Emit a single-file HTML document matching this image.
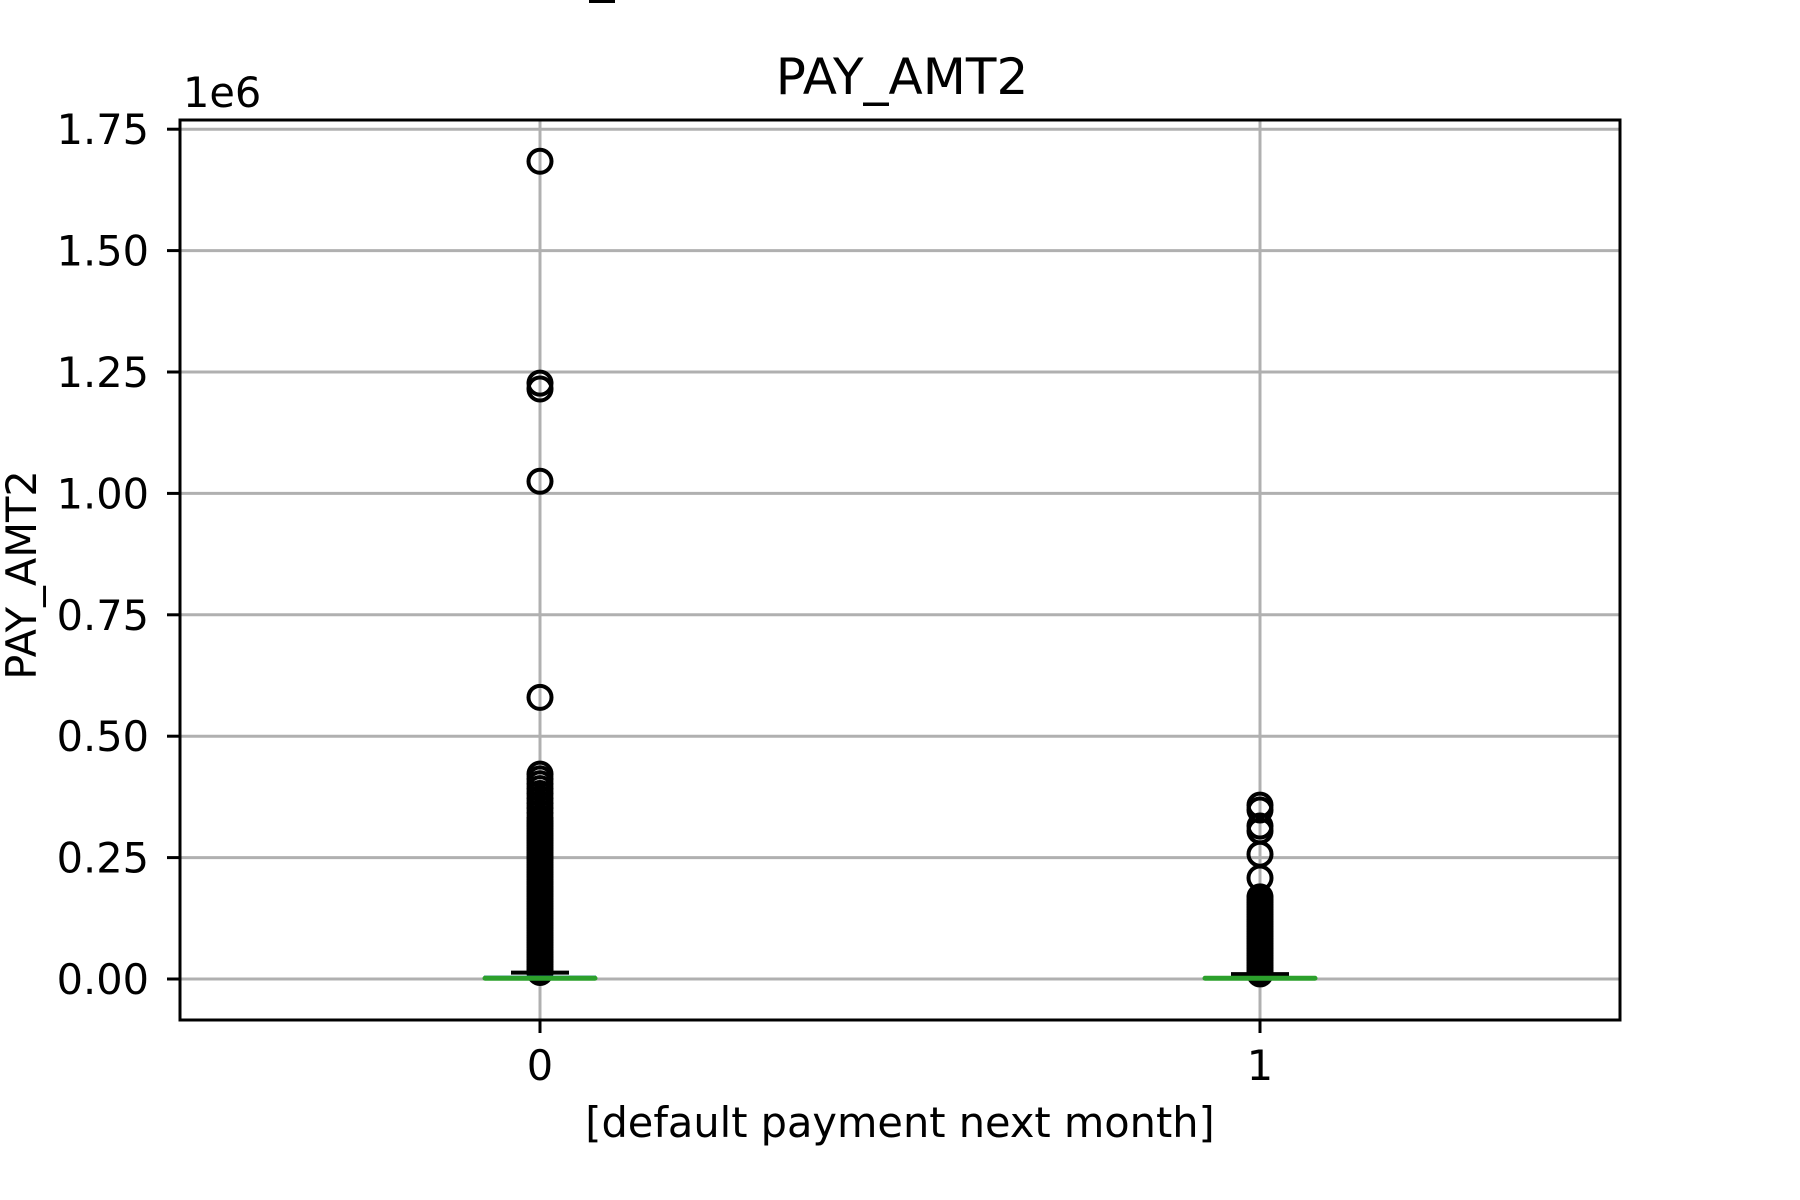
<!DOCTYPE html>
<html><head><meta charset="utf-8"><style>
html,body{margin:0;padding:0;background:#fff;width:1800px;height:1200px;overflow:hidden}
svg text{font-family:"DejaVu Sans","Liberation Sans",sans-serif;fill:#000}
</style></head><body>
<svg id="chart" width="1800" height="1200" viewBox="0 0 1800 1200" xmlns="http://www.w3.org/2000/svg">
<rect x="589" y="0" width="26" height="3" fill="#000"/>
<text x="902" y="94" font-size="50" text-anchor="middle">PAY_AMT2</text>
<text x="183" y="107" font-size="41.5">1e6</text>
<text x="0" y="0" font-size="41.5" text-anchor="middle" transform="translate(36,575) rotate(-90)">PAY_AMT2</text>
<text x="900" y="1137" font-size="41.5" text-anchor="middle">[default payment next month]</text>
<g id="grid"></g>
<g id="marks"></g>
<rect x="180" y="120" width="1440" height="900" fill="none" stroke="#000" stroke-width="3"/>
<g id="axes"></g>
</svg>
<script>
const categories = ["0", "1"];
const yTicks = [0, 0.25, 0.5, 0.75, 1.0, 1.25, 1.5, 1.75];
const yTickLabels = ["0.00", "0.25", "0.50", "0.75", "1.00", "1.25", "1.50", "1.75"];
const medians = [0.0015, 0.0015];
const q1s = [0.0008, 0.0003];
const q3s = [0.005, 0.004];
const whiskerLow = [0, 0];
const whiskerHigh = [0.013, 0.010];
const outliers0 = [1.684, 1.227, 1.215, 1.025, 0.580, 0.422, 0.412, 0.402, 0.392, 0.382, 0.372, 0.362, 0.352, 0.342, 0.332, 0.325, 0.320, 0.315, 0.310, 0.305, 0.300, 0.295, 0.290, 0.285, 0.280, 0.275, 0.270, 0.265, 0.260, 0.255, 0.250, 0.245, 0.240, 0.235, 0.230, 0.225, 0.220, 0.215, 0.210, 0.205, 0.200, 0.195, 0.190, 0.185, 0.180, 0.175, 0.170, 0.165, 0.160, 0.155, 0.150, 0.145, 0.140, 0.135, 0.130, 0.125, 0.120, 0.115, 0.110, 0.105, 0.100, 0.095, 0.090, 0.085, 0.080, 0.075, 0.070, 0.065, 0.060, 0.055, 0.050, 0.045, 0.040, 0.035, 0.030, 0.025, 0.020, 0.015, 0.0135];
const outliers1 = [0.358, 0.348, 0.315, 0.305, 0.257, 0.208, 0.169, 0.163, 0.158, 0.153, 0.148, 0.143, 0.138, 0.133, 0.128, 0.123, 0.118, 0.113, 0.108, 0.103, 0.098, 0.093, 0.088, 0.083, 0.078, 0.073, 0.068, 0.063, 0.058, 0.053, 0.048, 0.043, 0.038, 0.033, 0.028, 0.023, 0.018, 0.013, 0.0105];
const outliers = [outliers0, outliers1];

const NS = "http://www.w3.org/2000/svg";
const X0 = 180, X1 = 1620, Y0 = 979, PER = 121.4 / 0.25;
function yScale(v) { return Y0 - v * PER; }
function xScale(i) { return X0 + (X1 - X0) * (i + 0.5) / categories.length; }
function mk(parent, tag, attrs) {
  const e = document.createElementNS(NS, tag);
  for (const k in attrs) e.setAttribute(k, attrs[k]);
  parent.appendChild(e);
  return e;
}
const grid = document.getElementById('grid');
const axes = document.getElementById('axes');
const marks = document.getElementById('marks');

yTicks.forEach((t, i) => {
  const y = yScale(t);
  const g = mk(grid, 'line', {x1: X0, x2: X1, y1: y, y2: y, stroke: '#b0b0b0', 'stroke-width': 3});
  
  
  const tk = mk(axes, 'line', {x1: X0 - 13, x2: X0, y1: y, y2: y, stroke: '#000', 'stroke-width': 3});
  
  
  const tx = mk(axes, 'text', {x: 149, y: y + 15, 'font-size': 41.5, 'text-anchor': 'end'});
  tx.textContent = yTickLabels[i];
  
  
});
categories.forEach((c, i) => {
  const x = xScale(i);
  const g = mk(grid, 'line', {x1: x, x2: x, y1: 120, y2: 1020, stroke: '#b0b0b0', 'stroke-width': 3});
  
  
  const tk = mk(axes, 'line', {x1: x, x2: x, y1: 1020, y2: 1033, stroke: '#000', 'stroke-width': 3});
  
  
  const tx = mk(axes, 'text', {x: x, y: 1080, 'font-size': 41.5, 'text-anchor': 'middle'});
  tx.textContent = c;
  
  

  const grp = mk(marks, 'g', {});
  
  
  outliers[i].forEach(v => {
    const o = mk(grp, 'circle', {cx: x, cy: yScale(v), r: 11.5, fill: 'none', stroke: '#000', 'stroke-width': 4});
    
    
  });
  const w = mk(grp, 'line', {x1: x, x2: x, y1: yScale(whiskerLow[i]), y2: yScale(whiskerHigh[i]), stroke: '#000', 'stroke-width': 3});
  
  
  const cap = mk(grp, 'line', {x1: x - 29, x2: x + 29, y1: yScale(whiskerHigh[i]), y2: yScale(whiskerHigh[i]), stroke: '#000', 'stroke-width': 4});
  
  
  const capL = mk(grp, 'line', {x1: x - 29, x2: x + 29, y1: yScale(whiskerLow[i]), y2: yScale(whiskerLow[i]), stroke: '#000', 'stroke-width': 3});
  
  
  const bx = mk(grp, 'rect', {x: x - 55, y: yScale(q3s[i]), width: 110, height: Math.max(1, yScale(q1s[i]) - yScale(q3s[i])), fill: 'none', stroke: '#1f77b4', 'stroke-width': 2});
  
  
  const md = mk(grp, 'line', {x1: x - 55, x2: x + 55, y1: yScale(medians[i]), y2: yScale(medians[i]), stroke: '#2ca02c', 'stroke-width': 5, 'stroke-linecap': 'round'});
  
  
});
</script>
</body></html>
